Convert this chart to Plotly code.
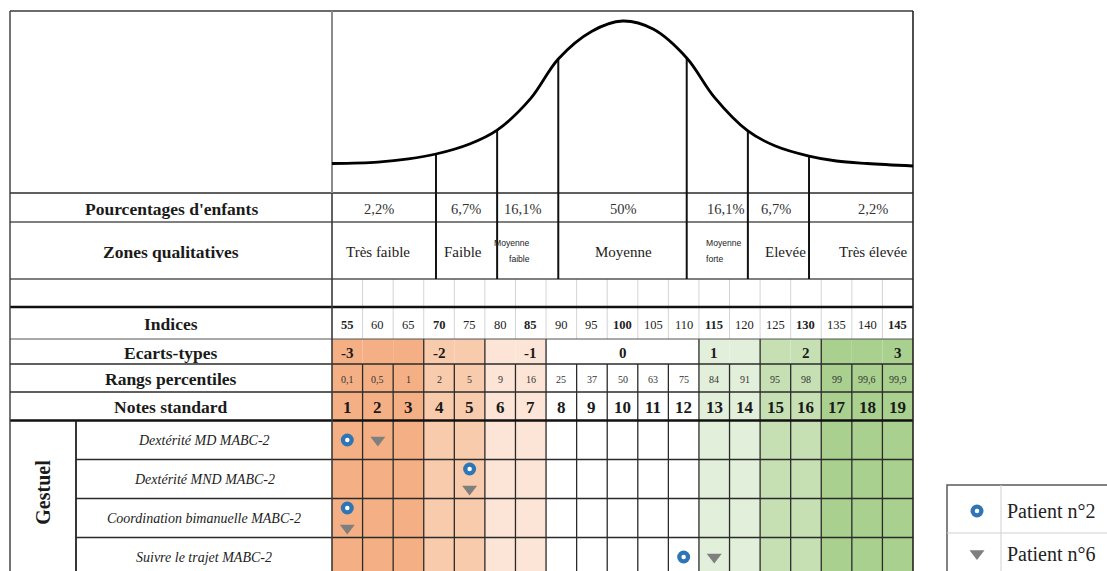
import plotly.graph_objects as go
import numpy as np

# ---------------- data ----------------
notes_standard = list(range(1, 20))
indices = [55, 60, 65, 70, 75, 80, 85, 90, 95, 100, 105, 110, 115, 120, 125, 130, 135, 140, 145]
percentiles = ["0,1", "0,5", "1", "2", "5", "9", "16", "25", "37", "50", "63", "75",
               "84", "91", "95", "98", "99", "99,6", "99,9"]
ecarts_types = [-3, -2, -1, 0, 1, 2, 3]
zone_pcts = ["2,2%", "6,7%", "16,1%", "50%", "16,1%", "6,7%", "2,2%"]
zone_names = ["Très faible", "Faible", "Moyenne|faible", "Moyenne",
              "Moyenne|forte", "Elevée", "Très élevée"]
zone_bounds = [69.5, 79.5, 89.5, 110.5, 120.5, 130.5]
curve_idx = [52.5, 60, 65, 69.5, 75, 79.5, 85, 89.5, 95, 100, 105, 110.5,
             115, 120.5, 125, 130.5, 135, 140, 147.5]
curve_density = [2.4, 3.4, 5.5, 8.9, 15.8, 25.3, 47, 74, 93, 100, 94.5, 74.7,
                 47.9, 24.7, 14.4, 7.5, 4.1, 2.4, 0.7]
row_labels = ["Pourcentages d'enfants", "Zones qualitatives", "Indices",
              "Ecarts-types", "Rangs percentiles", "Notes standard"]
domain_label = "Gestuel"
items = ["Dextérité MD MABC-2", "Dextérité MND MABC-2",
         "Coordination bimanuelle MABC-2", "Suivre le trajet MABC-2"]
patient2 = [1, 5, 1, 12]
patient6 = [2, 5, 1, 13]
series_names = ["Patient n°2", "Patient n°6"]

# ---------------- layout constants (pixels) ----------------
W, H = 1107, 571
LEFT, GROUP_X, GRID_L, GRID_R = 10, 76, 332, 913
TOP, CURVE_BOT = 11, 193
PCT = (193, 222)
ZONE = (222, 279)
EMPTY = (279, 307)
IND = (307, 339)
ECT = (339, 364)
PERC = (364, 392)
NOTES = (392, 420.5)
ITEM_TOP, ITEM_H = 420.5, 39
BOTTOM = ITEM_TOP + ITEM_H * len(items)
CURVE_BASE, CURVE_PEAK = 167, 21
CW = (GRID_R - GRID_L) / len(notes_standard)
pct_label_pos = [60.2, 74.4, 83.7, 100.2, 116.9, 125.1, 141.0]
zone_label_pos = [60.0, 73.9, 85.2, 100.2, 113.4, 126.6, 141.0]

band_of_note = [0, 0, 0, 1, 1, 2, 2, 3, 3, 3, 3, 3, 4, 4, 5, 5, 6, 6, 6]
band_colors = ["#F4B084", "#F8CBAD", "#FCE4D6", "#FFFFFF", "#E2EFDA", "#C6E0B4", "#A9D08E"]

SERIF = "Liberation Serif"
DARK = "#2b2b2b"
BLUE = "#2E75B6"
GREY = "#7F7F7F"


def px2x(px):
    return 0.5 + (px - GRID_L) / CW


def idx2x(idx):
    return (idx - 50) / 5


fig = go.Figure()
shapes = []
annots = []


def line(x0, y0, x1, y1, color=DARK, width=1.3):
    shapes.append(dict(type="line", xref="x", yref="y", x0=x0, y0=y0, x1=x1, y1=y1,
                       line=dict(color=color, width=width), layer="below"))


def text(x, y, s, size=13, bold=False, italic=False, color="#1a1a1a", xanchor="center",
         family=SERIF, angle=0, align="center"):
    annots.append(dict(x=x, y=y, xref="x", yref="y", text=s, showarrow=False,
                       xanchor=xanchor, yanchor="middle", align=align, textangle=angle,
                       font=dict(family=family, size=size, color=color,
                                 weight="bold" if bold else "normal",
                                 style="italic" if italic else "normal")))


# ---- coloured column bands ----
for i, n in enumerate(notes_standard):
    shapes.append(dict(type="rect", xref="x", yref="y", x0=n - 0.5, x1=n + 0.5,
                       y0=ECT[0], y1=BOTTOM + 10, line=dict(width=0),
                       fillcolor=band_colors[band_of_note[i]], layer="below"))

# ---- light grid lines (empty row & indices row) ----
for k in range(1, len(notes_standard)):
    xb = k + 0.5
    line(xb, EMPTY[0], xb, IND[1], color="#d4d4d4", width=1)

# ---- black cell grid (percentiles, notes, items) ----
for k in range(1, len(notes_standard)):
    xb = k + 0.5
    line(xb, PERC[0], xb, BOTTOM + 10, color=DARK, width=1.3)
# Ecarts-types row: separators at band boundaries
for k in range(1, len(notes_standard)):
    if band_of_note[k] != band_of_note[k - 1]:
        line(k + 0.5, ECT[0], k + 0.5, ECT[1], color=DARK, width=1.3)

# ---- horizontal rules ----
xl, xr, xg = px2x(LEFT), px2x(GRID_R), px2x(GROUP_X)
line(xl, TOP, xr, TOP, color="#3a3a3a", width=1.4)
for y, col, wd in [(PCT[0], DARK, 1.4), (ZONE[0], "#555", 1.4), (EMPTY[0], "#555", 1.6),
                   (IND[0], "#111", 2.4), (ECT[0], "#555", 1.2), (PERC[0], DARK, 1.4),
                   (NOTES[0], DARK, 1.4), (ITEM_TOP, "#111", 2.4)]:
    line(xl, y, xr, y, color=col, width=wd)
for i in range(1, len(items)):
    yy = ITEM_TOP + i * ITEM_H
    line(xg, yy, xr, yy, color=DARK, width=1.3)

# ---- vertical borders ----
line(xl, TOP, xl, BOTTOM + 10, color="#3a3a3a", width=1.4)
line(xr, TOP, xr, BOTTOM + 10, color="#222", width=1.6)
line(0.5, TOP, 0.5, CURVE_BOT, color="#8c8c8c", width=2)
line(0.5, CURVE_BOT, 0.5, BOTTOM + 10, color="#3a3a3a", width=1.6)
line(xg, ITEM_TOP, xg, BOTTOM + 10, color="#222", width=1.8)

# ---- bell curve and zone lines ----
cx = [idx2x(i) for i in curve_idx]
cy = [CURVE_BASE - d / 100 * (CURVE_BASE - CURVE_PEAK) for d in curve_density]
fig.add_trace(go.Scatter(x=cx, y=cy, mode="lines", line=dict(color="black", width=2.8, shape="spline"),
                         showlegend=False, hoverinfo="skip"))
for b in zone_bounds:
    ytop = float(np.interp(b, curve_idx, cy))
    line(idx2x(b), ytop, idx2x(b), ZONE[1], color="#111", width=2)

# ---- row labels ----
lab_x = px2x((LEFT + GRID_L) / 2)
for lab, rng in zip(row_labels, [PCT, ZONE, IND, ECT, PERC, NOTES]):
    text(lab_x, (rng[0] + rng[1]) / 2 + 1, lab, size=17.5, bold=True)

# ---- zone texts ----
zmid = (ZONE[0] + ZONE[1]) / 2
for i, (p, z) in enumerate(zip(zone_pcts, zone_names)):
    text(idx2x(pct_label_pos[i]), (PCT[0] + PCT[1]) / 2 + 1, p, size=14.5, color="#333")
    xz = idx2x(zone_label_pos[i])
    if "|" in z:
        l1, l2 = z.split("|")
        anc = "right" if i < 3 else "left"
        text(xz, zmid - 8, l1, size=8.6, family="Liberation Sans", xanchor=anc, color="#222")
        text(xz, zmid + 8, l2, size=8.6, family="Liberation Sans", xanchor=anc, color="#222")
    else:
        text(xz, zmid + 1, z, size=15, color="#222")

# ---- indices, percentiles, notes ----
for n, ind, pc in zip(notes_standard, indices, percentiles):
    text(n, (IND[0] + IND[1]) / 2 + 2, str(ind), size=12.5, bold=((ind - 100) % 15 == 0),
         color="#222")
    text(n, (PERC[0] + PERC[1]) / 2 + 1, pc, size=10, color="#333")
    text(n, (NOTES[0] + NOTES[1]) / 2 + 1, str(n), size=17, bold=True)
for sd in ecarts_types:
    text(idx2x(100 + 15 * sd), (ECT[0] + ECT[1]) / 2 + 1, str(sd), size=15, bold=True)

# ---- item labels ----
text(px2x((LEFT + GROUP_X) / 2), (ITEM_TOP + H) / 2 - 3, domain_label, size=20, bold=True, angle=-90)
item_x = px2x((GROUP_X + GRID_L) / 2)
for i, it in enumerate(items):
    text(item_x, ITEM_TOP + (i + 0.5) * ITEM_H, it, size=14, italic=True, color="#222")

# ---- patient markers ----
yc = [ITEM_TOP + (i + 0.5) * ITEM_H for i in range(len(items))]
y2 = [c - 10 if a == b else c for c, a, b in zip(yc, patient2, patient6)]
y6 = [c + 10 if a == b else c for c, a, b in zip(yc, patient2, patient6)]
fig.add_trace(go.Scatter(x=patient2, y=y2, mode="markers", name=series_names[0],
                         marker=dict(symbol="circle", size=13, color=BLUE), showlegend=False))
fig.add_trace(go.Scatter(x=patient2, y=y2, mode="markers", marker=dict(symbol="circle", size=4.5, color="white"),
                         showlegend=False, hoverinfo="skip"))
fig.add_trace(go.Scatter(x=patient6, y=y6, mode="markers", name=series_names[1],
                         marker=dict(symbol="triangle-down", size=13, color=GREY), showlegend=False))

# ---- custom legend box ----
LG_L, LG_T, LG_MID, LG_B, LG_DIV = 947, 485, 533, 572, 1001
shapes.append(dict(type="rect", xref="x", yref="y", x0=px2x(LG_L), x1=px2x(W + 10), y0=LG_T, y1=LG_B,
                   line=dict(color="#5a5a5a", width=1.5), fillcolor="white", layer="below"))
line(px2x(LG_L), LG_MID, px2x(W + 10), LG_MID, color="#d0d0d0", width=1)
line(px2x(LG_DIV), LG_T, px2x(LG_DIV), LG_B, color="#d0d0d0", width=1)
lg_y = [(LG_T + LG_MID) / 2 + 2, (LG_MID + LG_B) / 2 + 1]
lg_x = px2x(977)
fig.add_trace(go.Scatter(x=[lg_x], y=[lg_y[0]], mode="markers", marker=dict(symbol="circle", size=13, color=BLUE),
                         showlegend=False, hoverinfo="skip"))
fig.add_trace(go.Scatter(x=[lg_x], y=[lg_y[0]], mode="markers", marker=dict(symbol="circle", size=4.5, color="white"),
                         showlegend=False, hoverinfo="skip"))
fig.add_trace(go.Scatter(x=[lg_x], y=[lg_y[1]], mode="markers", marker=dict(symbol="triangle-down", size=13, color=GREY),
                         showlegend=False, hoverinfo="skip"))
for yy, nm in zip(lg_y, series_names):
    text(px2x(1005), yy, nm, size=20, xanchor="left", color="#222")

fig.update_layout(
    width=W, height=H, autosize=False,
    margin=dict(l=0, r=0, t=0, b=0, pad=0),
    paper_bgcolor="white", plot_bgcolor="white",
    shapes=shapes, annotations=annots, showlegend=False,
    xaxis=dict(range=[px2x(0), px2x(W)], visible=False, fixedrange=True),
    yaxis=dict(range=[H, 0], visible=False, fixedrange=True),
)

fig.write_html("out.html", config={"displayModeBar": False},
               post_script="document.body.style.margin='0';document.body.style.overflow='hidden';")
